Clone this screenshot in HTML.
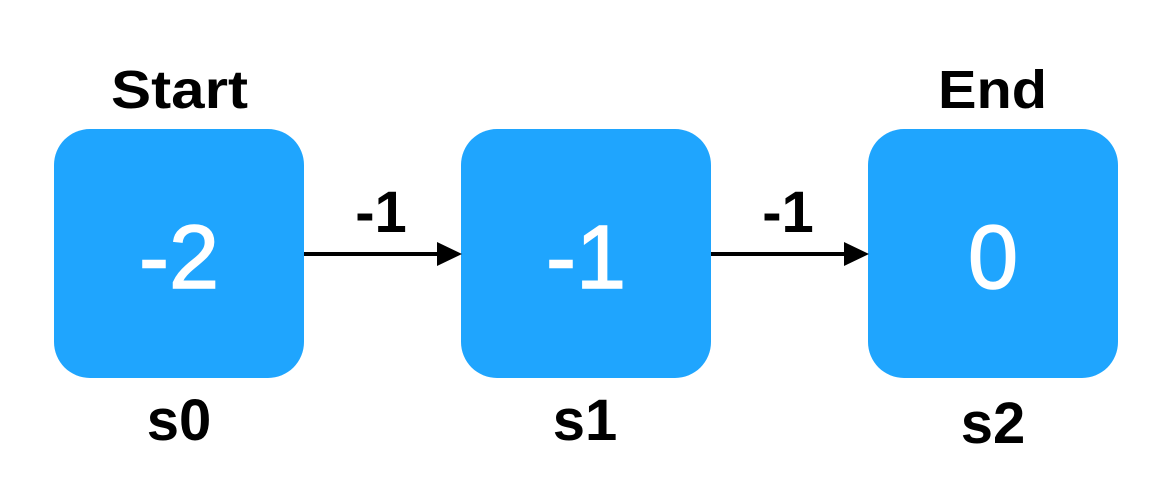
<!DOCTYPE html>
<html><head><style>html,body{margin:0;padding:0;background:#fff}svg{display:block}</style></head>
<body>
<svg width="1168" height="496" viewBox="0 0 1168 496" xmlns="http://www.w3.org/2000/svg" font-family="Liberation Sans, Arial, sans-serif">
<rect x="54" y="129" width="250" height="249" rx="36" fill="#1fa5fe"/>
<rect x="461" y="129" width="250" height="249" rx="36" fill="#1fa5fe"/>
<rect x="868" y="129" width="250" height="249" rx="36" fill="#1fa5fe"/>
<line x1="304" y1="254" x2="440" y2="254" stroke="#000" stroke-width="4"/>
<polygon points="437,242 462,254 437,266" fill="#000"/>
<line x1="711" y1="254" x2="847" y2="254" stroke="#000" stroke-width="4"/>
<polygon points="844,242 869,254 844,266" fill="#000"/>
<g font-weight="bold" fill="#000">
<text x="111" y="108" font-size="54" textLength="137" lengthAdjust="spacingAndGlyphs">Start</text>
<text x="938" y="108" font-size="54" textLength="109" lengthAdjust="spacingAndGlyphs">End</text>
</g>
<g font-weight="bold" fill="#000" text-anchor="middle">
<text x="381" y="232" font-size="58">-1</text>
<text x="788" y="232" font-size="58">-1</text>
<text x="179" y="440" font-size="58">s0</text>
<text x="585" y="440" font-size="58">s1</text>
<text x="993" y="443" font-size="58">s2</text>
</g>
<g fill="#fff" text-anchor="middle" font-size="90" stroke="#fff" stroke-width="1.5">
<text x="179" y="288">-2</text>
<text x="586" y="288">-1</text>
<text x="993" y="288">0</text>
</g>
</svg>
</body></html>
